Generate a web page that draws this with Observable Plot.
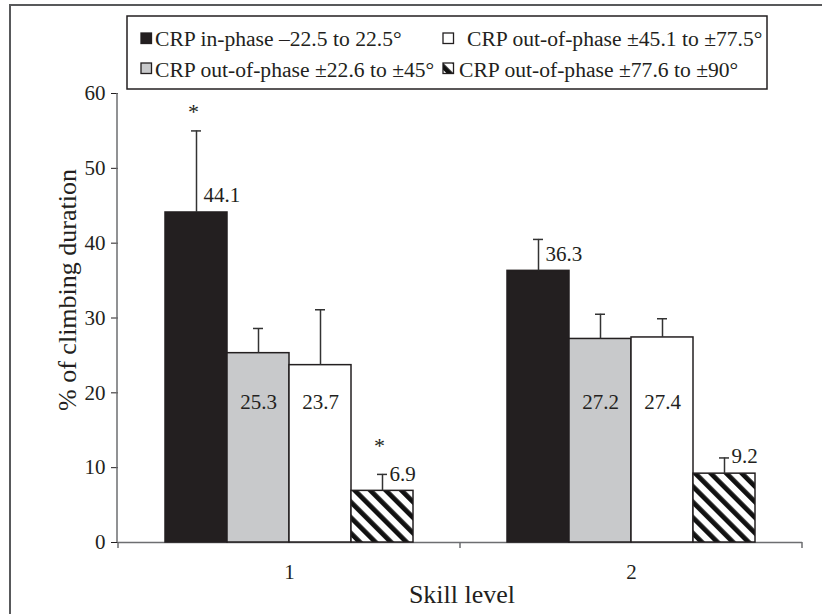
<!DOCTYPE html>
<html><head><meta charset="utf-8">
<script src="https://cdn.jsdelivr.net/npm/d3@7"></script>
<script src="https://cdn.jsdelivr.net/npm/@observablehq/plot@0.6"></script>
<style>
body{margin:0;background:#fff}
#chart{position:relative;width:822px;height:614px;overflow:hidden}
#chart svg, #chart svg text{font-family:"Liberation Serif","Times New Roman",Times,serif !important}
</style>
</head><body><div id="chart"></div>
<script>
// ---- data ----
const skillLevels = ["1", "2"];
const seriesKeys = ["in", "out1", "out2", "out3"];
const seriesNames = [
  "CRP in-phase \u201322.5 to 22.5\u00b0",
  "CRP out-of-phase \u00b122.6 to \u00b145\u00b0",
  "CRP out-of-phase \u00b145.1 to \u00b177.5\u00b0",
  "CRP out-of-phase \u00b177.6 to \u00b190\u00b0"
];
const valuesSkill1 = [44.1, 25.3, 23.7, 6.9];
const valuesSkill2 = [36.3, 27.2, 27.4, 9.2];
const errorsSkill1 = [10.9, 3.3, 7.4, 2.2];
const errorsSkill2 = [4.2, 3.3, 2.5, 2.1];
const significantSkill1 = [true, false, false, true];
const significantSkill2 = [false, false, false, false];
const yTicks = [0, 10, 20, 30, 40, 50, 60];
const xLabel = "Skill level";
const yLabel = "% of climbing duration";

const fills = ["#231f20", "#c8c9cb", "#ffffff", "url(#hatch)"];
const ink = "#231f20";
const font = "Liberation Serif, Times New Roman, Times, serif";

const data = [];
skillLevels.forEach((g, gi) => {
  const vals = gi === 0 ? valuesSkill1 : valuesSkill2;
  const errs = gi === 0 ? errorsSkill1 : errorsSkill2;
  const sig = gi === 0 ? significantSkill1 : significantSkill2;
  seriesKeys.forEach((k, i) => data.push({
    skill: g, key: k, value: vals[i], top: vals[i] + errs[i], sig: sig[i]
  }));
});
const outside = data.filter(d => d.key === "in" || d.key === "out3");
const inside = data.filter(d => d.key === "out1" || d.key === "out2");

const plot = Plot.plot({
  width: 822, height: 614,
  marginLeft: 117, marginRight: 20, marginTop: 93, marginBottom: 72,
  style: {fontFamily: font, fontSize: "21px", color: ink, background: "#fff", overflow: "visible"},
  fx: {domain: skillLevels, padding: 0, axis: "bottom", tickSize: 0, tickPadding: 22, label: null, fontSize: 21},
  x: {domain: seriesKeys, paddingInner: 0, paddingOuter: 0.75, axis: null},
  y: {domain: [0, 60], ticks: yTicks, tickSize: 7, tickPadding: 6, label: null, tickFormat: d => String(d)},
  color: {domain: seriesKeys, range: fills},
  marks: [
    Plot.ruleY([0], {stroke: "#6d6e71", strokeWidth: 1.5}),
    Plot.barY(data, {fx: "skill", x: "key", y: "value", fill: "key", stroke: ink, strokeWidth: 1.5}),
    Plot.ruleX(data, {fx: "skill", x: "key", y1: "value", y2: "top", stroke: "#333", strokeWidth: 1.5}),
    Plot.tickY(data, {fx: "skill", x: "key", y: "top", stroke: "#333", strokeWidth: 1.5, insetLeft: 26, insetRight: 26}),
    Plot.text(outside, {fx: "skill", x: "key", y: "value", text: d => d.value.toFixed(1), textAnchor: "start", dx: 7, dy: -17, fill: ink, fontSize: 21}),
    Plot.text(inside, {fx: "skill", x: "key", y: () => 18.8, text: d => d.value.toFixed(1), fill: ink, fontSize: 21}),
    Plot.text(data.filter(d => d.sig && d.key === "in"), {fx: "skill", x: "key", y: "top", text: () => "*", dx: -3, dy: -19, fill: ink, fontSize: 22}),
    Plot.text(data.filter(d => d.sig && d.key === "out3"), {fx: "skill", x: "key", y: "top", text: () => "*", dx: -3, dy: -28, fill: ink, fontSize: 22})
  ]
});

const svg = d3.select(plot);
// hatch pattern
const defs = svg.insert("defs", ":first-child");
const pat = defs.append("pattern").attr("id", "hatch").attr("patternUnits", "userSpaceOnUse")
  .attr("width", 11).attr("height", 11).attr("patternTransform", "rotate(-45)");
pat.append("rect").attr("width", 11).attr("height", 11).attr("fill", "#fff");
pat.append("rect").attr("width", 4.8).attr("height", 11).attr("fill", "#111");

const ys = plot.scale("y");
const fxs = plot.scale("fx");
const y0 = ys.apply(0), y60 = ys.apply(60);
const axisColor = "#6d6e71";
// y axis line
svg.append("line").attr("x1", 117).attr("x2", 117).attr("y1", y60).attr("y2", y0)
  .attr("stroke", axisColor).attr("stroke-width", 1.5);
// x boundary ticks
const bounds = new Set();
skillLevels.forEach(g => { const a = fxs.apply(g); bounds.add(a); bounds.add(a + fxs.bandwidth); });
[...bounds].forEach(b => {
  svg.append("line").attr("x1", b).attr("x2", b).attr("y1", y0).attr("y2", y0 + 6)
    .attr("stroke", axisColor).attr("stroke-width", 1.5);
});
// outer frame (top and left edges)
svg.append("path").attr("d", "M10,614V5H822").attr("fill", "none").attr("stroke", "#58595b").attr("stroke-width", 2);
// axis titles
svg.append("text").attr("x", 462).attr("y", 603).attr("text-anchor", "middle")
  .attr("font-size", 26).attr("fill", ink).text(xLabel);
svg.append("text").attr("transform", "translate(76,290) rotate(-90)").attr("text-anchor", "middle")
  .attr("font-size", 26).attr("fill", ink).text(yLabel);
// legend
const lg = svg.append("g").attr("font-size", 21.6).attr("fill", ink).attr("text-anchor", "start");
lg.append("rect").attr("x", 127).attr("y", 16).attr("width", 640).attr("height", 73)
  .attr("fill", "#fff").attr("stroke", ink).attr("stroke-width", 1.5);
const items = [
  {i: 0, sx: 141, sy: 33, tx: 155, ty: 46},
  {i: 2, sx: 443, sy: 33, tx: 467, ty: 46},
  {i: 1, sx: 141, sy: 63, tx: 155, ty: 77},
  {i: 3, sx: 443, sy: 63, tx: 459, ty: 77}
];
items.forEach(it => {
  lg.append("rect").attr("x", it.sx).attr("y", it.sy).attr("width", 10.5).attr("height", 10.5)
    .attr("fill", fills[it.i]).attr("stroke", ink).attr("stroke-width", 1.3);
  lg.append("text").attr("x", it.tx).attr("y", it.ty).attr("text-anchor", "start").text(seriesNames[it.i]);
});

document.getElementById("chart").appendChild(plot);
</script>
</body></html>
